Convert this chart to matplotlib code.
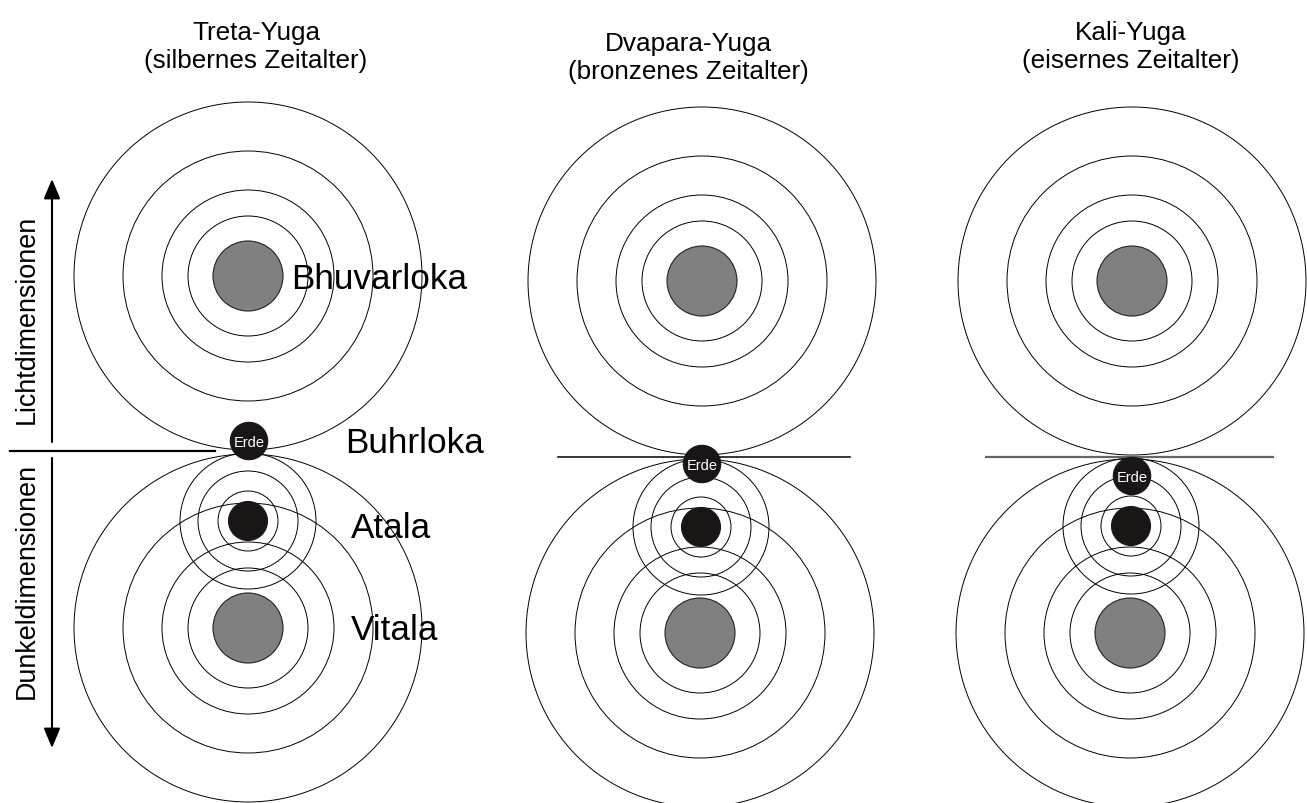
import matplotlib.pyplot as plt
from matplotlib.patches import Circle

plt.rcParams['font.family'] = ['Liberation Sans', 'DejaVu Sans']

# panel titles (one per Yuga)
titles = ['Treta-Yuga\n(silbernes Zeitalter)',
          'Dvapara-Yuga\n(bronzenes Zeitalter)',
          'Kali-Yuga\n(eisernes Zeitalter)']
title_x = [256, 688, 1131]
title_y = [47, 58, 47]

# centres of the light sphere (Bhuvarloka), of Atala and Vitala, and of the earth
upper_x = [248, 702, 1132]
upper_y = [277, 282, 282]
atala_x = [248, 701, 1131]
atala_y = [522, 528, 527]
vitala_x = [248, 700, 1130]
vitala_y = [629, 634, 634]
erde_x = [249, 702, 1132]
erde_y = [442, 465, 477]

# ring radii
big_rings = [174, 125, 86, 60]
atala_rings = [68, 50, 30]
core_r = 35
atala_core_r = 19.5
erde_r = 18.7

# horizontal "Buhrloka" lines per panel
hline_y = [452, 458, 458]
hline_x0 = [10, 558, 986]
hline_x1 = [215, 850, 1273]
hline_col = ['black', 'black', '#666666']
hline_lw = [1.6, 1.1, 1.6]

layer_names = ['Bhuvarloka', 'Buhrloka', 'Atala', 'Vitala']
layer_name_y = [280, 444, 529, 631]
layer_name_x = [291, 345, 351, 351]

fig = plt.figure(figsize=(13.07, 8.04), dpi=100)
ax = fig.add_axes([0, 0, 1, 1])
ax.set_xlim(0, 1307)
ax.set_ylim(804, 0)
ax.axis('off')

ring_kw = dict(fill=False, ec='black', lw=0.7)

for i in range(3):
    for r in big_rings:
        ax.add_patch(Circle((upper_x[i], upper_y[i]), r, **ring_kw))
        ax.add_patch(Circle((vitala_x[i], vitala_y[i]), r, **ring_kw))
    for r in atala_rings:
        ax.add_patch(Circle((atala_x[i], atala_y[i]), r, **ring_kw))
    ax.add_patch(Circle((upper_x[i], upper_y[i]), core_r, fc='#808080', ec='#222222', lw=0.8, zorder=3))
    ax.add_patch(Circle((vitala_x[i], vitala_y[i]), core_r, fc='#808080', ec='#222222', lw=0.8, zorder=3))
    ax.add_patch(Circle((atala_x[i], atala_y[i]), atala_core_r, fc='#1a1616', ec='#1a1616', lw=0.8, zorder=3))

    ax.plot([hline_x0[i], hline_x1[i]], [hline_y[i], hline_y[i]],
            color=hline_col[i], lw=hline_lw[i], zorder=2)

    ax.add_patch(Circle((erde_x[i], erde_y[i]), erde_r, fc='#1a1616', ec='#1a1616', lw=0.8, zorder=4))
    ax.text(erde_x[i], erde_y[i] + 1, 'Erde', color='white', fontsize=10.5,
            ha='center', va='center', zorder=5)

    ax.text(title_x[i], title_y[i], titles[i], fontsize=18.8, ha='center', va='center',
            linespacing=1.25)

for name, x, y in zip(layer_names, layer_name_x, layer_name_y):
    ax.text(x, y, name, fontsize=25.3, ha='left', va='center', zorder=6)

# direction arrows on the left
arrow_kw = dict(arrowstyle='-|>,head_length=0.6,head_width=0.25', color='black',
                lw=1.5, mutation_scale=20, shrinkA=0, shrinkB=0)
ax.annotate('', xy=(52, 180), xytext=(52, 443), arrowprops=arrow_kw)
ax.annotate('', xy=(52, 749), xytext=(52, 459), arrowprops=arrow_kw)
ax.text(27, 319, 'Lichtdimensionen', rotation=90, fontsize=19.4, ha='center', va='center')
ax.text(27, 581, 'Dunkeldimensionen', rotation=90, fontsize=19.4, ha='center', va='center')

fig.savefig('out.png', dpi=100, facecolor='white')
